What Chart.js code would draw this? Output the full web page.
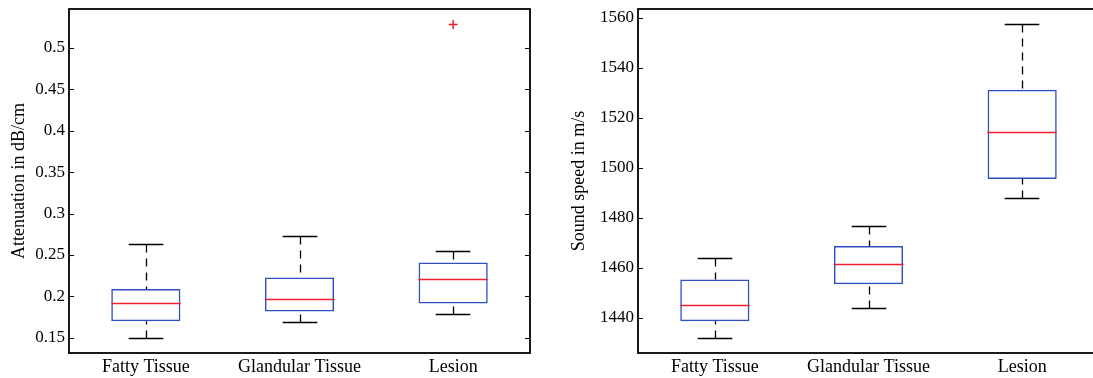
<!DOCTYPE html>
<html>
<head>
<meta charset="utf-8">
<script src="https://cdn.jsdelivr.net/npm/chart.js@4"></script>
<style>
html, body { margin: 0; padding: 0; background: #fff; overflow: hidden; width: 1093px; height: 378px; }
.panel { position: absolute; top: 0; }
#leftPanel { left: 0; }
#rightPanel { left: 560px; }
</style>
</head>
<body>
<div class="panel" id="leftPanel"><canvas id="attn" width="545" height="378"></canvas></div>
<div class="panel" id="rightPanel"><canvas id="speed" width="560" height="378"></canvas></div>
<script>
const categories = ["Fatty Tissue", "Glandular Tissue", "Lesion"]

// attenuation in dB/cm
const attnLow = [0.150, 0.169, 0.179]
const attnQ1 = [0.170, 0.182, 0.1915]
const attnMedian = [0.192, 0.197, 0.221]
const attnQ3 = [0.209, 0.223, 0.241]
const attnHigh = [0.263, 0.273, 0.255]
const attnOutliers = [null, null, 0.528]
const attnTicks = [0.15, 0.2, 0.25, 0.3, 0.35, 0.4, 0.45, 0.5]

// sound speed in m/s
const speedLow = [1432, 1444, 1488]
const speedQ1 = [1438.7, 1453.5, 1495.6]
const speedMedian = [1445.1, 1461.8, 1514.2]
const speedQ3 = [1455.4, 1468.8, 1531.3]
const speedHigh = [1463.9, 1476.8, 1557.5]
const speedOutliers = [null, null, null]
const speedTicks = [1440, 1460, 1480, 1500, 1520, 1540, 1560]

const SERIF = "'Liberation Serif', 'Times New Roman', serif"
const TICK_FONT = { family: SERIF, size: 17 }
const LABEL_FONT = { family: SERIF, size: 18 }
const BOX_BLUE = "#2f4fc0"
const MEDIAN_RED = "#f02030"

// median, whiskers and caps, placed through the chart's scales
const whiskers = {
	id: "whiskers",
	afterDatasetsDraw(chart, args, opts) {
		const ctx = chart.ctx
		const x = chart.scales.x
		const y = chart.scales.y
		const unit = x.getPixelForValue(1) - x.getPixelForValue(0)
		const boxHalf = unit * 0.45 / 2
		const capHalf = boxHalf / 2
		ctx.save()
		opts.median.forEach((m, i) => {
			const cx = Math.round(x.getPixelForValue(i))
			const yLow = Math.round(y.getPixelForValue(opts.low[i])) + 0.5
			const yQ1 = y.getPixelForValue(opts.q1[i])
			const yQ3 = y.getPixelForValue(opts.q3[i])
			const yHigh = Math.round(y.getPixelForValue(opts.high[i])) + 0.5
			const yMed = Math.round(y.getPixelForValue(m)) + 0.5

			ctx.strokeStyle = "#000"
			ctx.lineWidth = 1.3
			ctx.setLineDash([8, 6])
			ctx.beginPath()
			ctx.moveTo(cx + 0.5, yHigh)
			ctx.lineTo(cx + 0.5, yQ3)
			ctx.stroke()
			ctx.beginPath()
			ctx.moveTo(cx + 0.5, yLow)
			ctx.lineTo(cx + 0.5, yQ1)
			ctx.stroke()
			ctx.setLineDash([])
			ctx.beginPath()
			ctx.moveTo(cx - capHalf, yHigh)
			ctx.lineTo(cx + capHalf, yHigh)
			ctx.moveTo(cx - capHalf, yLow)
			ctx.lineTo(cx + capHalf, yLow)
			ctx.stroke()

			ctx.strokeStyle = MEDIAN_RED
			ctx.lineWidth = 1.5
			ctx.beginPath()
			ctx.moveTo(cx - boxHalf, yMed)
			ctx.lineTo(cx + boxHalf, yMed)
			ctx.stroke()
		})
		ctx.restore()
	}
}

// matlab style frame with inward ticks on both sides
const frame = {
	id: "frame",
	afterDraw(chart) {
		const ctx = chart.ctx
		const a = chart.chartArea
		const y = chart.scales.y
		ctx.save()
		ctx.strokeStyle = "#000"
		ctx.lineWidth = 1.2
		y.ticks.forEach(t => {
			const py = Math.round(y.getPixelForValue(t.value)) + 0.5
			ctx.beginPath()
			ctx.moveTo(a.left, py)
			ctx.lineTo(a.left + 5, py)
			ctx.moveTo(a.right, py)
			ctx.lineTo(a.right - 5, py)
			ctx.stroke()
		})
		ctx.lineWidth = 1.8
		ctx.strokeRect(Math.round(a.left), Math.round(a.top), Math.round(a.right - a.left), Math.round(a.bottom - a.top))
		ctx.restore()
	}
}

function noPadding(s) {
	s.paddingTop = 0
	s.paddingBottom = 0
	s.paddingLeft = 0
	s.paddingRight = 0
}

function boxChart(canvas, title, low, q1, median, q3, high, outliers, tickValues, yMin, yMax, axisWidth, padRight) {
	return new Chart(canvas, {
		type: "bar",
		data: {
			labels: categories,
			datasets: [{
				data: q1.map((v, i) => [v, q3[i]]),
				backgroundColor: "rgba(0,0,0,0)",
				borderColor: BOX_BLUE,
				borderWidth: 1.5,
				borderSkipped: false,
				barPercentage: 0.45,
				categoryPercentage: 1,
			}, {
				type: "line",
				data: outliers,
				showLine: false,
				pointStyle: "cross",
				pointRadius: 4.5,
				borderColor: MEDIAN_RED,
				borderWidth: 1.5,
			}],
		},
		options: {
			responsive: false,
			animation: false,
			layout: { padding: { top: 9, right: padRight, left: 0, bottom: 0 } },
			plugins: {
				legend: { display: false },
				tooltip: { enabled: false },
				whiskers: { low: low, q1: q1, median: median, q3: q3, high: high },
			},
			scales: {
				x: {
					offset: true,
					grid: { display: false, drawTicks: false },
					border: { display: false },
					ticks: { font: LABEL_FONT, color: "#000", padding: 3, maxRotation: 0 },
					afterFit: s => { s.height = 25; noPadding(s) },
				},
				y: {
					min: yMin,
					max: yMax,
					grid: { display: false, drawTicks: false },
					border: { display: false },
					afterBuildTicks: s => { s.ticks = tickValues.map(v => ({ value: v })) },
					ticks: { font: TICK_FONT, color: "#000", padding: 4, callback: v => String(v) },
					title: { display: true, text: title, font: LABEL_FONT, color: "#000", padding: { top: 8, bottom: 0 } },
					afterFit: s => { s.width = axisWidth; noPadding(s) },
				},
			},
		},
		plugins: [whiskers, frame],
	})
}

boxChart(document.getElementById("attn"), "Attenuation in dB/cm",
	attnLow, attnQ1, attnMedian, attnQ3, attnHigh, attnOutliers, attnTicks, 0.1318, 0.5467, 69, 15)
boxChart(document.getElementById("speed"), "Sound speed in m/s",
	speedLow, speedQ1, speedMedian, speedQ3, speedHigh, speedOutliers, speedTicks, 1426, 1563.6, 78, 21)
</script>
</body>
</html>
